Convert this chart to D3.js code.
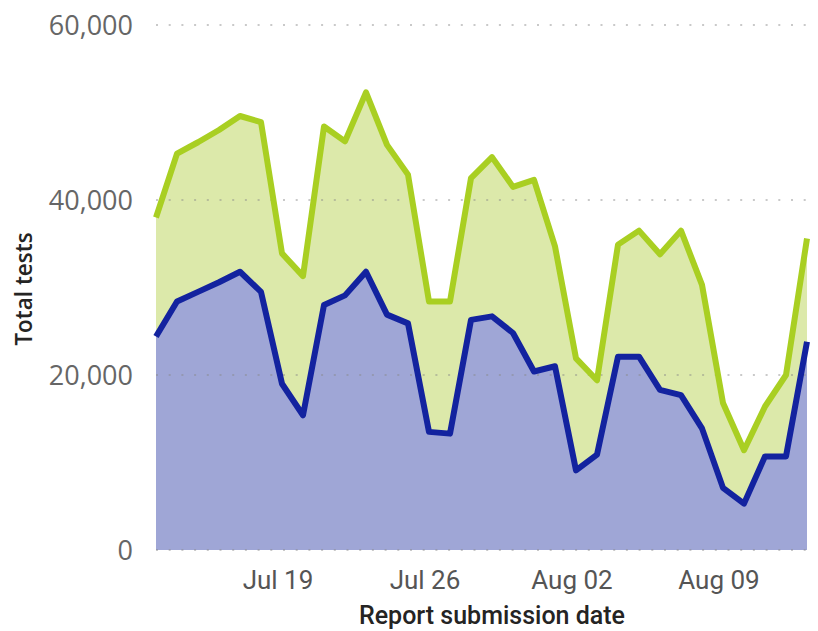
<!DOCTYPE html>
<html>
<head>
<meta charset="utf-8">
<script src="https://cdn.jsdelivr.net/npm/d3@7"></script>
<style>
  body { margin: 0; background: #fff; }
</style>
</head>
<body>
<div class="canvas"></div>
<script>
// report dates, Jul 13 .. Aug 13
const dates = d3.timeDay.range(new Date(2020, 6, 13), new Date(2020, 7, 14));

// total tests (green) and the lower series (blue)
const totalTests = [38000, 45300, 46600, 48000, 49600, 48900, 33900, 31300, 48400, 46700,
  52300, 46300, 42900, 28400, 28400, 42500, 44900, 41500, 42300, 34700,
  21900, 19400, 34900, 36500, 33800, 36500, 30300, 16800, 11400, 16400,
  20000, 35600];
const lowerTests = [24400, 28400, 29500, 30600, 31800, 29500, 19000, 15400, 28000, 29100,
  31800, 26900, 25900, 13500, 13300, 26300, 26700, 24800, 20400, 21000,
  9100, 10900, 22100, 22100, 18300, 17700, 13900, 7100, 5300, 10700,
  10700, 23800];

const yTicks = [0, 20000, 40000, 60000];
const xTicks = [new Date(2020, 6, 19), new Date(2020, 6, 26), new Date(2020, 7, 2), new Date(2020, 7, 9)];

const width = 818, height = 631;
const plotLeft = 156, plotRight = 807, plotTop = 25, plotBottom = 550;

const svg = d3.select('.canvas').append('svg')
    .attr('width', width)
    .attr('height', height);

const x = d3.scaleTime()
    .domain(d3.extent(dates))
    .range([plotLeft, plotRight]);

const y = d3.scaleLinear()
    .domain([0, 60000])
    .range([plotBottom, plotTop]);

const series = [
  { values: totalTests, fill: '#dce9aa', stroke: '#a9cf22' },
  { values: lowerTests, fill: '#9fa6d6', stroke: '#13239f' }
];

const area = d3.area()
    .x((d, i) => x(dates[i]))
    .y0(y(0))
    .y1(d => y(d));

const line = d3.line()
    .x((d, i) => x(dates[i]))
    .y(d => y(d));

series.forEach(s => {
  svg.append('path')
      .attr('d', area(s.values))
      .attr('fill', s.fill);
});

// dotted gridlines
svg.append('g')
    .selectAll('line')
    .data(yTicks)
    .join('line')
    .attr('x1', plotLeft)
    .attr('x2', 812)
    .attr('y1', d => y(d))
    .attr('y2', d => y(d))
    .attr('stroke', '#888')
    .attr('stroke-opacity', 0.45)
    .attr('stroke-width', 2)
    .attr('stroke-dasharray', '2,10.7');

series.forEach(s => {
  svg.append('path')
      .attr('d', line(s.values))
      .attr('fill', 'none')
      .attr('stroke', s.stroke)
      .attr('stroke-width', 6)
      .attr('stroke-linejoin', 'round')
      .attr('stroke-linecap', 'butt');
});

// y axis labels
svg.append('g')
    .selectAll('text')
    .data(yTicks)
    .join('text')
    .attr('x', 133)
    .attr('y', d => y(d))
    .attr('dy', '0.36em')
    .attr('text-anchor', 'end')
    .attr('fill', '#666')
    .style('font-family', '"Open Sans", sans-serif')
    .style('font-size', '27px')
    .text(d => d3.format(',')(d));

// x axis labels
svg.append('g')
    .selectAll('text')
    .data(xTicks)
    .join('text')
    .attr('x', d => x(d) - 4)
    .attr('y', 589)
    .attr('text-anchor', 'middle')
    .attr('fill', '#555')
    .style('font-family', 'Roboto, sans-serif')
    .style('font-size', '26px')
    .text(d => d3.timeFormat('%b %d')(d));

svg.append('text')
    .attr('x', 492)
    .attr('y', 624)
    .attr('text-anchor', 'middle')
    .attr('fill', '#252423')
    .style('font-family', 'Roboto, sans-serif')
    .style('font-weight', 500)
    .style('font-size', '25px')
    .text('Report submission date');

svg.append('text')
    .attr('transform', 'translate(32, 289) rotate(-90)')
    .attr('text-anchor', 'middle')
    .attr('fill', '#252423')
    .style('font-family', '"Open Sans", sans-serif')
    .style('font-weight', 600)
    .style('font-size', '22.5px')
    .text('Total tests');
</script>
</body>
</html>
